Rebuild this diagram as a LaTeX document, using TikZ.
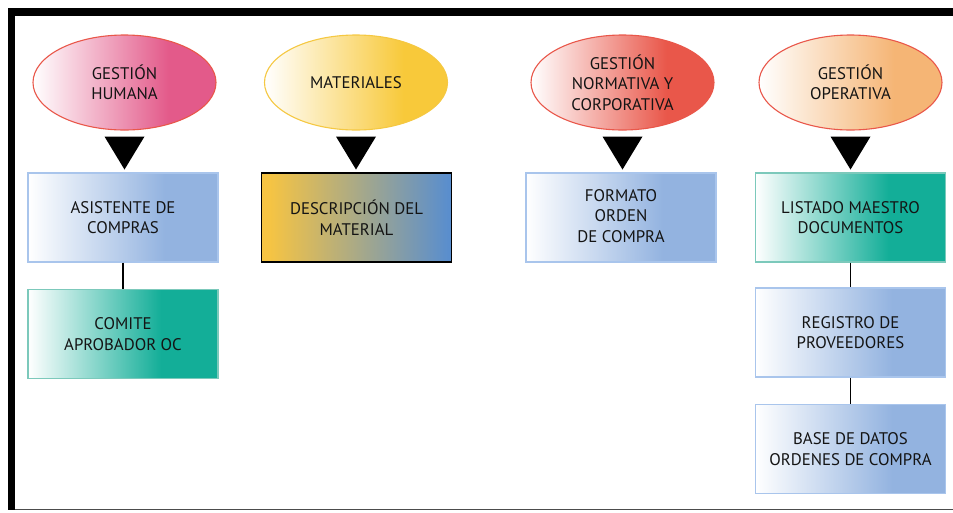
\documentclass[tikz,border=0pt]{standalone}
\usepackage{fontspec}
\setmainfont{PT Sans}
\usetikzlibrary{shapes.geometric}

% palette
\definecolor{ink}{HTML}{141414}
\definecolor{rosa}{HTML}{E35A8A}
\definecolor{oro}{HTML}{F8C93A}
\definecolor{oroBorde}{HTML}{F5C842}
\definecolor{rojo}{HTML}{E9574A}
\definecolor{naranja}{HTML}{F5B575}
\definecolor{azul}{HTML}{93B3E0}
\definecolor{azulBorde}{HTML}{A9C5EC}
\definecolor{verde}{HTML}{13AE98}
\definecolor{verdeBorde}{HTML}{7CC9BB}
\definecolor{ambar}{HTML}{F6C443}
\definecolor{acero}{HTML}{5A8ECD}

% white-to-colour fills, full colour reached at about three quarters of the width
\pgfdeclarehorizontalshading{fadeRosa}{100bp}{color(0bp)=(white);color(25bp)=(white);color(62bp)=(rosa);color(100bp)=(rosa)}
\pgfdeclarehorizontalshading{fadeOro}{100bp}{color(0bp)=(white);color(25bp)=(white);color(63bp)=(oro);color(100bp)=(oro)}
\pgfdeclarehorizontalshading{fadeRojo}{100bp}{color(0bp)=(white);color(25bp)=(white);color(62bp)=(rojo);color(100bp)=(rojo)}
\pgfdeclarehorizontalshading{fadeNaranja}{100bp}{color(0bp)=(white);color(25bp)=(white);color(62bp)=(naranja);color(100bp)=(naranja)}
\pgfdeclarehorizontalshading{fadeAzul}{100bp}{color(0bp)=(white);color(25bp)=(white);color(61bp)=(azul);color(100bp)=(azul)}
\pgfdeclarehorizontalshading{fadeVerde}{100bp}{color(0bp)=(white);color(25bp)=(white);color(60bp)=(verde);color(100bp)=(verde)}
\pgfdeclarehorizontalshading{mezcla}{100bp}{color(0bp)=(ambar);color(27bp)=(ambar);color(74bp)=(acero);color(100bp)=(acero)}

\tikzset{
  txt/.style={text=ink, font=\fontsize{16.8}{20.5}\selectfont, align=center},
  oval/.style={txt, ellipse, minimum width=183, minimum height=95, inner sep=0pt, line width=1.1pt, shade},
  card/.style={txt, rectangle, minimum width=190, minimum height=89, inner sep=0pt, line width=1.2pt, shade},
  marker/.style={fill=black},
  link/.style={draw=black, line width=1.3pt},
}

\begin{document}
\begin{tikzpicture}[x=1pt,y=-1pt]
\useasboundingbox (0,0) rectangle (953,512);

% frame
\fill[black] (8,8) rectangle (953,16);
\fill[black] (8,8) rectangle (15,510);
\draw[gray!60!black, line width=1.2pt] (15,509.5) -- (953,509.5);

% areas
\node[oval, draw=rojo, shading=fadeRosa] (gh) at (124.5,82.5) {GESTIÓN\\HUMANA};
\node[oval, draw=oroBorde, shading=fadeOro] (mat) at (356,82.5) {MATERIALES};
\node[oval, draw=rojo, shading=fadeRojo] (gn) at (622.5,82.5) {GESTIÓN\\NORMATIVA Y\\CORPORATIVA};
\node[oval, draw=rojo, shading=fadeNaranja] (go) at (850.5,82.5) {GESTIÓN\\OPERATIVA};

% records
\node[card, draw=azulBorde, shading=fadeAzul] (asis) at (123,217.5) {ASISTENTE DE\\COMPRAS};
\node[card, draw=verdeBorde, shading=fadeVerde] (comite) at (123,334) {COMITE\\APROBADOR OC};
\node[card, draw=black, shading=mezcla] (desc) at (356.5,217.5) {DESCRIPCIÓN DEL\\MATERIAL};
\node[card, draw=azulBorde, shading=fadeAzul] (fmt) at (621,217.5) {\raisebox{4pt}{\begin{tabular}{@{}c@{}}FORMATO\\ORDEN\\DE COMPRA\end{tabular}}};
\node[card, draw=verdeBorde, shading=fadeVerde] (list) at (850.5,217.5) {LISTADO MAESTRO\\DOCUMENTOS};
\node[card, draw=azulBorde, shading=fadeAzul] (reg) at (850.5,332.5) {REGISTRO DE\\PROVEEDORES};
\node[card, draw=azulBorde, shading=fadeAzul] (base) at (850.5,449) {BASE DE DATOS\\ORDENES DE COMPRA};

% downward markers under each area
\foreach \e in {gh,mat,gn,go}{
  \fill[marker] ([shift={(-20,6)}]\e.south) -- ++(40,0) -- ([shift={(0,39)}]\e.south) -- cycle;
}

% links
\draw[link] (asis.south) -- (comite.north);
\draw[link] (list.south) -- (reg.north);
\draw[link] (reg.south) -- (base.north);
\end{tikzpicture}
\end{document}
